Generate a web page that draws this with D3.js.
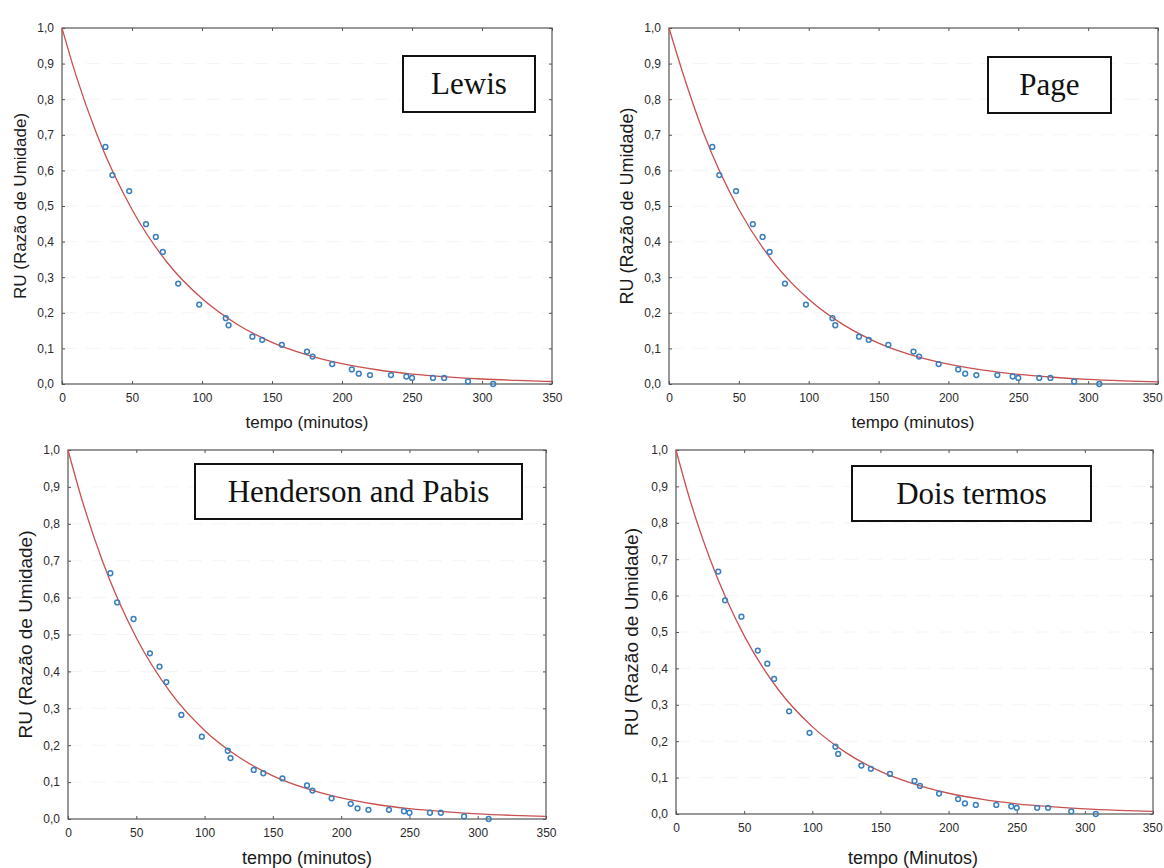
<!DOCTYPE html>
<html><head><meta charset="utf-8">
<script src="https://cdn.jsdelivr.net/npm/d3@7"></script>
<style>html,body{margin:0;padding:0;background:#fff;}</style>
</head><body>
<script>
// ---- data ----
const tempo = [31, 36, 48, 60, 67, 72, 83, 98, 117, 119, 136, 143, 157, 175, 179, 193, 207, 212, 220, 235, 246, 250, 265, 273, 290, 308];
const ru    = [0.666, 0.587, 0.542, 0.449, 0.413, 0.371, 0.282, 0.223, 0.185, 0.165, 0.133, 0.124, 0.110, 0.091, 0.077, 0.056, 0.041, 0.029, 0.025, 0.025, 0.021, 0.017, 0.017, 0.017, 0.007, 0.000];
// fitted curves
const curveT      = [0, 10, 25, 50, 75, 100, 125, 150, 175, 200, 225, 250, 275, 300, 325, 350];
const curveLewis  = [1.0, 0.867, 0.700, 0.490, 0.342, 0.240, 0.168, 0.117, 0.082, 0.057, 0.040, 0.028, 0.020, 0.014, 0.010, 0.007];
const curvePage   = [1.0, 0.872, 0.702, 0.490, 0.341, 0.238, 0.166, 0.115, 0.080, 0.056, 0.039, 0.027, 0.019, 0.013, 0.009, 0.006];
const curveHend   = [1.0, 0.868, 0.701, 0.491, 0.343, 0.240, 0.168, 0.117, 0.082, 0.057, 0.040, 0.028, 0.020, 0.014, 0.010, 0.007];
const curveDois   = [1.0, 0.866, 0.700, 0.490, 0.342, 0.240, 0.168, 0.117, 0.082, 0.057, 0.040, 0.028, 0.020, 0.014, 0.010, 0.007];
const xTicks = [0, 50, 100, 150, 200, 250, 300, 350];
const yTicks = [0, 0.1, 0.2, 0.3, 0.4, 0.5, 0.6, 0.7, 0.8, 0.9, 1.0];
const modelNames = ["Lewis", "Page", "Henderson and Pabis", "Dois termos"];
const xTitles = ["tempo (minutos)", "tempo (minutos)", "tempo (minutos)", "tempo (Minutos)"];
const yTitle = "RU (Razão de Umidade)";
const curves = [curveLewis, curvePage, curveHend, curveDois];

// ---- layout ----
const layout = [
  {l:62,  r:552,  t:28,  b:384, box:[403,56,535,112],  xtY:428, xtX:307, xtF:17, ytX:20,  ytF:17},
  {l:669, r:1158, t:28,  b:384, box:[988,57,1111,113], xtY:428, xtX:913, xtF:17, ytX:627, ytF:18},
  {l:68,  r:546,  t:450, b:819, box:[195,464,522,519], xtY:864, xtX:307, xtF:18, ytX:26,  ytF:19},
  {l:676, r:1153, t:450, b:814, box:[852,466,1091,521],xtY:864, xtX:913, xtF:18, ytX:632, ytF:19}
];

const svg = d3.select("body").append("svg").attr("width",1164).attr("height",868)
  .style("font-family","Arial, 'Liberation Sans', sans-serif");
svg.append("rect").attr("width",1164).attr("height",868).attr("fill","#fff");

layout.forEach((L, i) => {
  const x = d3.scaleLinear().domain([0,350]).range([L.l, L.r]);
  const y = d3.scaleLinear().domain([0,1]).range([L.b, L.t]);
  const g = svg.append("g");

  // faint grid
  g.selectAll(".gy").data(yTicks.slice(1,-1)).join("line")
    .attr("x1",L.l).attr("x2",L.r).attr("y1",d=>y(d)).attr("y2",d=>y(d))
    .attr("stroke","#f4f4f4").attr("stroke-dasharray","14,10");

  // frame
  g.append("rect").attr("x",L.l).attr("y",L.t).attr("width",L.r-L.l).attr("height",L.b-L.t)
    .attr("fill","none").attr("stroke","#555").attr("stroke-width",1.2);

  // axes
  const ax = g.append("g").attr("transform",`translate(0,${L.b})`)
    .call(d3.axisBottom(x).tickValues(xTicks).tickSize(-3).tickPadding(9).tickFormat(d3.format("d")));
  const axT = g.append("g").attr("transform",`translate(0,${L.t})`)
    .call(d3.axisTop(x).tickValues(xTicks).tickSize(-3).tickFormat(""));
  const ay = g.append("g").attr("transform",`translate(${L.l},0)`)
    .call(d3.axisLeft(y).tickValues(yTicks).tickSize(-3).tickPadding(8).tickFormat(d=>d3.format(".1f")(d).replace(".",",")));
  const ayR = g.append("g").attr("transform",`translate(${L.r},0)`)
    .call(d3.axisRight(y).tickValues(yTicks).tickSize(-3).tickFormat(""));
  [ax, axT, ay, ayR].forEach(a => {
    a.select(".domain").remove();
    a.selectAll(".tick line").attr("stroke","#555");
    a.selectAll("text").attr("fill","#2a2a2a").style("font-size","12px");
  });
  // keep the last x label inside the page
  ax.selectAll(".tick text").each(function(){
    const bb = this.getBBox();
    const tr = this.parentNode.getAttribute("transform");
    const tx = +tr.match(/translate\(([-\d.]+)/)[1];
    const over = tx + bb.x + bb.width - 1163;
    if (over > 0) d3.select(this).attr("dx", -over);
  });

  // curve
  const line = d3.line().x((d,j)=>x(curveT[j])).y(d=>y(d)).curve(d3.curveMonotoneX);
  g.append("path").datum(curves[i]).attr("d",line)
    .attr("fill","none").attr("stroke","#c8504f").attr("stroke-width",1.3);

  // points
  g.selectAll(".pt").data(tempo).join("circle")
    .attr("cx",d=>x(d)).attr("cy",(d,j)=>y(ru[j])).attr("r",2.4)
    .attr("fill","none").attr("stroke","#3a7fbf").attr("stroke-width",1.5);

  // legend box
  const [bx0,by0,bx1,by1] = L.box;
  g.append("rect").attr("x",bx0).attr("y",by0).attr("width",bx1-bx0).attr("height",by1-by0)
    .attr("fill","#fff").attr("stroke","#111").attr("stroke-width",2);
  g.append("text").attr("x",(bx0+bx1)/2).attr("y",(by0+by1)/2+10)
    .attr("text-anchor","middle").attr("fill","#111")
    .style("font-family","'Liberation Serif', 'Times New Roman', serif").style("font-size","31px")
    .text(modelNames[i]);

  // axis titles
  g.append("text").attr("x",L.xtX).attr("y",L.xtY).attr("text-anchor","middle")
    .attr("fill","#1a1a1a").style("font-size",L.xtF+"px").text(xTitles[i]);
  g.append("text").attr("transform",`translate(${L.ytX+6},${(L.t+L.b)/2}) rotate(-90)`)
    .attr("text-anchor","middle").attr("fill","#1a1a1a").style("font-size",L.ytF+"px").text(yTitle);
});
</script>
</body></html>
